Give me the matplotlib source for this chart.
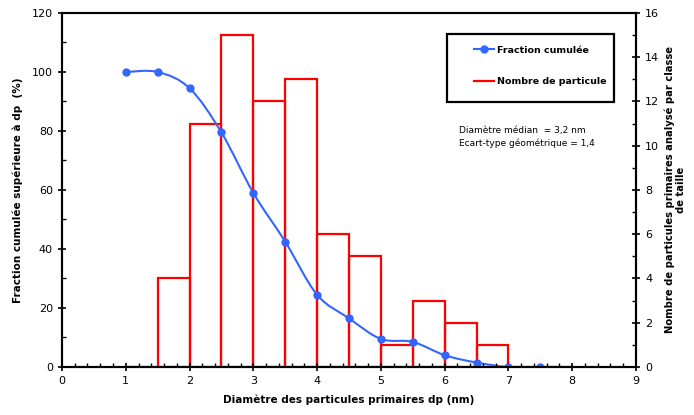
import numpy as np
import matplotlib
matplotlib.use("Agg")
import matplotlib.pyplot as plt
from matplotlib.path import Path
from matplotlib.patches import PathPatch, Rectangle
from matplotlib.lines import Line2D
from matplotlib.ticker import MultipleLocator

# fraction cumulee (axe gauche)
diam = [1, 1.5, 2, 2.5, 3, 3.5, 4, 4.5, 5, 5.5, 6, 6.5, 7, 7.5]
frac = [100, 100, 94.5, 79.5, 59, 42.5, 24.5, 16.5, 9.5, 8.5, 4, 1.5, 0, 0]

# nombre de particules par classe (axe droit)
classe = [1, 1.5, 2, 2.5, 3, 3.5, 4, 4.5, 5, 5.5, 6, 6.5, 7, 7.5]
nombre = [0, 4, 11, 15, 12, 13, 6, 5, 1, 3, 2, 1, 0, 0]

blue = '#3366ff'


# courbe lissee facon Excel (bezier, catmull-rom)
def smooth_path(x, y):
    pts = np.column_stack([x, y]).astype(float)
    verts = [pts[0]]
    codes = [Path.MOVETO]
    n = len(pts)
    for i in range(n - 1):
        p0 = pts[max(i - 1, 0)]
        p1 = pts[i]
        p2 = pts[i + 1]
        p3 = pts[min(i + 2, n - 1)]
        c1 = p1 + (p2 - p0) / 6
        c2 = p2 - (p3 - p1) / 6
        verts += [c1, c2, p2]
        codes += [Path.CURVE4] * 3
    return Path(verts, codes)


fig = plt.figure(figsize=(6.94, 4.15), dpi=100)
ax = fig.add_axes([0.0893, 0.1157, 0.8271, 0.853])
ax2 = ax.twinx()

ax2.bar(classe, nombre, width=0.5, align='edge', fill=False, edgecolor='red', linewidth=1.6)
ax2.set_ylim(0, 16)

ax.set_zorder(ax2.get_zorder() + 1)
ax.patch.set_visible(False)
ax.add_patch(PathPatch(smooth_path(diam, frac), fill=False, edgecolor=blue, lw=1.5))
ax.plot(diam, frac, 'o', color=blue, markersize=5)

ax.set_xlim(0, 9)
ax.set_ylim(0, 120)
ax.xaxis.set_major_locator(MultipleLocator(1))
ax.xaxis.set_minor_locator(MultipleLocator(0.2))
ax.yaxis.set_major_locator(MultipleLocator(20))
ax.yaxis.set_minor_locator(MultipleLocator(10))
ax2.yaxis.set_major_locator(MultipleLocator(2))
ax2.yaxis.set_minor_locator(MultipleLocator(1))

for a in (ax, ax2):
    for s in a.spines.values():
        s.set_linewidth(1.5)
    a.tick_params(which='major', direction='inout', length=6, width=1.2, labelsize=8)
    a.tick_params(which='minor', direction='in', length=3, width=1)

ax.set_xlabel('Diamètre des particules primaires dp (nm)', fontsize=7.5, fontweight='bold', labelpad=6)
ax.set_ylabel('Fraction cumulée supérieure à dp  (%)', fontsize=7.5, fontweight='bold', labelpad=6)
ax2.set_ylabel('Nombre de particules primaires analysé par classe\nde taille', fontsize=7.2,
               fontweight='bold', labelpad=4, linespacing=1.1)

# legende : cadre noir separe, entrees sans cadre
ax.add_patch(Rectangle((0.671, 0.749), 0.291, 0.192, transform=ax.transAxes, fill=False,
                       edgecolor='black', lw=1.6, zorder=5))
h1 = Line2D([], [], color=blue, marker='o', markersize=5, lw=1.5)
h2 = Line2D([], [], color='red', lw=1.6)
leg = ax.legend([h1, h2], ['Fraction cumulée', 'Nombre de particule'], loc='upper left',
                bbox_to_anchor=(0.717, 0.908), frameon=False,
                prop={'weight': 'bold', 'size': 6.8}, labelspacing=2.4, borderpad=0,
                handlelength=2.2, handletextpad=0.25, borderaxespad=0)

ax.text(0.692, 0.68, 'Diamètre médian  = 3,2 nm\nEcart-type géométrique = 1,4', transform=ax.transAxes,
        fontsize=6.5, va='top', linespacing=1.4)

fig.savefig('out.png', dpi=100)
